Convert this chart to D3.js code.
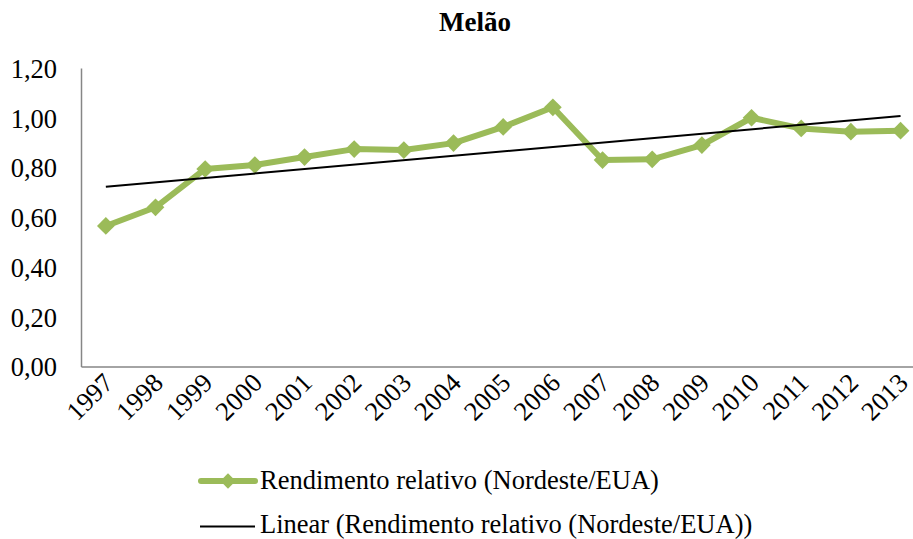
<!DOCTYPE html>
<html>
<head>
<meta charset="utf-8">
<script src="https://cdn.jsdelivr.net/npm/d3@7"></script>
<style>
  body { margin: 0; background: #fff; }
  text { font-family: "Liberation Serif", "Times New Roman", serif; fill: #000; }
</style>
</head>
<body>
<svg id="chart" width="913" height="539"></svg>
<script>
const years = ["1997","1998","1999","2000","2001","2002","2003","2004","2005",
               "2006","2007","2008","2009","2010","2011","2012","2013"];
const rendimento = [0.565,0.64,0.794,0.81,0.842,0.874,0.87,0.898,0.963,
                    1.042,0.83,0.833,0.89,1.0,0.957,0.944,0.948];
const yTicks = [0,0.2,0.4,0.6,0.8,1.0,1.2];

const seriesName = "Rendimento relativo (Nordeste/EUA)";
const trendName = "Linear (Rendimento relativo (Nordeste/EUA))";
const green = "#9BBB59";

const svg = d3.select("#chart");

// plot area (right edge runs past the picture, like the original)
const plotLeft = 81, plotTop = 68, plotBottom = 366.5, plotRight = 81 + 17 * 49.67;

const x = d3.scaleBand().domain(years).range([plotLeft, plotRight]);
const y = d3.scaleLinear().domain([0, 1.2]).range([plotBottom, plotTop]);
const cx = d => x(d) + x.bandwidth() / 2;

// title
svg.append("text")
    .attr("x", 475).attr("y", 31)
    .attr("text-anchor", "middle")
    .style("font-size", "27px").style("font-weight", "bold")
    .text("Melão");

// y axis
const yAxis = svg.append("g")
    .attr("transform", `translate(${plotLeft},0)`)
    .call(d3.axisLeft(y).tickValues(yTicks).tickSize(0).tickPadding(24)
        .tickFormat(d => d3.format(".2f")(d).replace(".", ",")));
yAxis.select(".domain").attr("stroke", "#868686").attr("stroke-width", 1.5);
yAxis.selectAll("text").style("font-size", "26.5px")
    .attr("font-family", null).attr("dy", "0.35em");

// x axis
const xAxis = svg.append("g")
    .attr("transform", `translate(0,${plotBottom})`)
    .call(d3.axisBottom(x).tickSize(0).tickPadding(0));
xAxis.select(".domain").attr("stroke", "#868686").attr("stroke-width", 1.5);
xAxis.selectAll("text")
    .attr("font-family", null)
    .style("font-size", "26.5px")
    .attr("text-anchor", "end")
    .attr("dy", null)
    .attr("transform", "translate(9,18) rotate(-45)");

// linear trend (least squares over the series, as the spreadsheet does)
const n = rendimento.length;
const mx = d3.mean(d3.range(n)), my = d3.mean(rendimento);
const slope = d3.sum(rendimento, (v, i) => (i - mx) * (v - my)) /
              d3.sum(d3.range(n), i => (i - mx) * (i - mx));
const fit = i => my + slope * (i - mx);

const line = d3.line().x(d => cx(d.year)).y(d => y(d.value));
const pts = years.map((yr, i) => ({year: yr, value: rendimento[i]}));

svg.append("path")
    .datum(pts)
    .attr("d", line)
    .attr("fill", "none")
    .attr("stroke", green)
    .attr("stroke-width", 6)
    .attr("stroke-linejoin", "round");

const diamond = d3.symbol().type(d3.symbolDiamond2).size(200);
svg.append("g").selectAll("path")
    .data(pts)
    .join("path")
    .attr("transform", d => `translate(${cx(d.year)},${y(d.value)})`)
    .attr("d", diamond)
    .attr("fill", green);

svg.append("line")
    .attr("x1", cx(years[0])).attr("y1", y(fit(0)))
    .attr("x2", cx(years[n - 1])).attr("y2", y(fit(n - 1)))
    .attr("stroke", "#000").attr("stroke-width", 2);

// legend
const lg = svg.append("g");
lg.append("line")
    .attr("x1", 201).attr("x2", 255).attr("y1", 481).attr("y2", 481)
    .attr("stroke", green).attr("stroke-width", 6).attr("stroke-linecap", "round");
lg.append("path")
    .attr("transform", "translate(228,481)")
    .attr("d", d3.symbol().type(d3.symbolDiamond2).size(150))
    .attr("fill", green);
lg.append("text").attr("x", 260).attr("y", 489)
    .style("font-size", "26.5px").text(seriesName);

lg.append("line")
    .attr("x1", 200).attr("x2", 255).attr("y1", 526.5).attr("y2", 526.5)
    .attr("stroke", "#000").attr("stroke-width", 2);
lg.append("text").attr("x", 260).attr("y", 532.5)
    .style("font-size", "26.5px").text(trendName);
</script>
</body>
</html>
